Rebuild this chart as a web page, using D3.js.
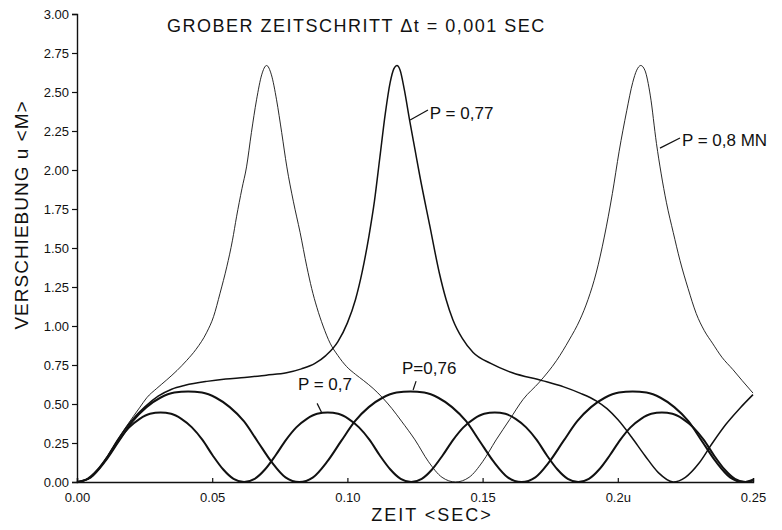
<!DOCTYPE html>
<html>
<head>
<meta charset="utf-8">
<title>Verschiebung</title>
<style>
  body { margin: 0; background: #fff; }
  text { font-family: "Liberation Sans", Arial, sans-serif; fill: #111; }
  .tick text { font-size: 13px; }
  .curve { fill: none; stroke: #111; }
</style>
</head>
<body>
<div id="chart"></div>
<script src="https://d3js.org/d3.v7.min.js"></script>
<script>
// [time sec, displacement m]
const p070 = [[0,0],[.0039,.02],[.0077,.08],[.0116,.17],[.0155,.27],[.0193,.35],[.0232,.405],[.0270,.437],[.0309,.445],[.0348,.437],[.0386,.405],[.0425,.35],[.0464,.27],[.0502,.17],[.0541,.08],[.0579,.02],[.0618,0],
  [.0657,.02],[.0695,.08],[.0734,.17],[.0773,.27],[.0811,.35],[.0850,.405],[.0888,.437],[.0927,.445],[.0966,.437],[.1004,.405],[.1043,.35],[.1082,.27],[.1120,.17],[.1159,.08],[.1197,.02],[.1236,0],
  [.1275,.02],[.1313,.08],[.1352,.17],[.1391,.27],[.1429,.35],[.1468,.405],[.1506,.437],[.1545,.445],[.1584,.437],[.1622,.405],[.1661,.35],[.1700,.27],[.1738,.17],[.1777,.08],[.1815,.02],[.1854,0],
  [.1893,.02],[.1931,.08],[.1970,.17],[.2009,.27],[.2047,.35],[.2086,.405],[.2124,.437],[.2163,.445],[.2202,.437],[.2240,.405],[.2279,.35],[.2318,.27],[.2356,.17],[.2395,.08],[.2433,.02],[.2472,0],[.25,.01]];

const p076 = [[0,0],[.0051,.03],[.0103,.13],[.0154,.26],[.0206,.39],[.0257,.48],[.0308,.54],[.0360,.573],[.0411,.58],[.0462,.573],[.0514,.54],[.0565,.48],[.0617,.39],[.0668,.26],[.0719,.13],[.0771,.03],[.0822,0],
  [.0873,.03],[.0925,.13],[.0976,.26],[.1028,.39],[.1079,.48],[.1130,.54],[.1182,.573],[.1233,.58],[.1284,.573],[.1336,.54],[.1387,.48],[.1439,.39],[.1490,.26],[.1541,.13],[.1593,.03],[.1644,0],
  [.1695,.03],[.1747,.13],[.1798,.26],[.1850,.39],[.1901,.48],[.1952,.54],[.2004,.573],[.2055,.58],[.2106,.573],[.2158,.54],[.2209,.48],[.2261,.39],[.2312,.26],[.2363,.13],[.2415,.03],[.2466,0],[.25,.015]];

const p077 = [[0,0],[.005,.03],[.01,.13],[.015,.27],[.02,.39],[.025,.48],[.03,.55],[.035,.595],[.04,.62],[.048,.645],[.055,.66],[.062,.67],[.07,.685],[.0775,.70],[.083,.725],[.088,.76],[.092,.81],[.0965,.90],[.100,1.02],[.103,1.17],[.1055,1.35],[.108,1.58],[.110,1.80],[.112,2.08],[.114,2.36],[.1158,2.56],[.1172,2.65],[.1183,2.67],[.1195,2.64],[.121,2.52],[.123,2.32],[.125,2.13],[.1268,1.96],[.1305,1.64],[.134,1.34],[.1365,1.17],[.139,1.04],[.1425,.92],[.1465,.83],[.153,.76],[.161,.70],[.172,.65],[.18,.61],[.186,.57],[.192,.52],[.196,.47],[.200,.40],[.205,.29],[.210,.17],[.215,.06],[.2205,0],[.225,.03],[.23,.12],[.235,.25],[.24,.37],[.245,.47],[.25,.56]];

const p080 = [[0,0],[.005,.03],[.01,.13],[.015,.27],[.0184,.36],[.0233,.48],[.0258,.54],[.0295,.60],[.0332,.655],[.037,.715],[.0406,.78],[.044,.85],[.048,.96],[.0505,1.06],[.0529,1.21],[.0554,1.38],[.0575,1.55],[.059,1.70],[.061,1.88],[.0627,2.02],[.0645,2.24],[.0664,2.45],[.0683,2.61],[.0701,2.67],[.0719,2.61],[.0738,2.45],[.0757,2.24],[.0776,2.02],[.080,1.80],[.0825,1.60],[.085,1.38],[.0868,1.24],[.0887,1.12],[.091,1.00],[.0936,.89],[.0965,.81],[.0997,.74],[.103,.69],[.106,.65],[.1095,.60],[.113,.54],[.1165,.47],[.12,.39],[.125,.27],[.13,.13],[.135,.03],[.14,0],
  [.145,.03],[.15,.13],[.155,.27],[.16,.40],[.165,.53],[.171,.64],[.1774,.78],[.182,.91],[.186,1.04],[.189,1.17],[.192,1.34],[.195,1.57],[.198,1.85],[.2005,2.12],[.2033,2.38],[.2055,2.56],[.207,2.64],[.2085,2.67],[.210,2.64],[.212,2.48],[.2143,2.17],[.216,1.98],[.218,1.79],[.2205,1.60],[.223,1.42],[.226,1.24],[.229,1.08],[.232,.97],[.235,.89],[.2385,.80],[.2426,.72],[.246,.65],[.25,.57]];

const xTicks = [0, 0.05, 0.10, 0.15, 0.20, 0.25];
const xTickLabels = ["0.00", "0.05", "0.10", "0.15", "0.2u", "0.25"];
const yTicks = [0, 0.25, 0.5, 0.75, 1, 1.25, 1.5, 1.75, 2, 2.25, 2.5, 2.75, 3];

// label text, text anchor point, leader from / to (all in data units)
const labels = [
  {text: "P = 0,77",   t: .1305, u: 2.33, l: [[.1232, 2.32], [.1298, 2.385]]},
  {text: "P = 0,8 MN", t: .2237, u: 2.154, l: [[.2156, 2.14], [.223, 2.205]]},
  {text: "P=0,76",     t: .1202, u: .692, l: [[.1243, .59], [.1254, .647]]},
  {text: "P = 0,7",    t: .0817, u: .59,  l: [[.0888, .504], [.0906, .44]]}
];

const width = 782, height = 530;
const margin = {top: 14, right: 29, bottom: 48, left: 77};
const graphWidth = width - margin.left - margin.right;
const graphHeight = height - margin.top - margin.bottom;

const svg = d3.select('#chart').append('svg')
  .attr('width', width)
  .attr('height', height);

const graph = svg.append('g')
  .attr('transform', `translate(${margin.left}, ${margin.top})`);

const x = d3.scaleLinear().domain([0, 0.25]).range([0, graphWidth]);
const y = d3.scaleLinear().domain([0, 3]).range([graphHeight, 0]);

const xAxis = d3.axisBottom(x)
  .tickValues(xTicks)
  .tickSize(-4)
  .tickPadding(11)
  .tickFormat((d, i) => xTickLabels[i]);
const yAxis = d3.axisLeft(y)
  .tickValues(yTicks)
  .tickSize(5)
  .tickPadding(3)
  .tickFormat(d3.format('.2f'));

const gX = graph.append('g')
  .attr('transform', `translate(0, ${graphHeight})`)
  .call(xAxis);
const gY = graph.append('g').call(yAxis);

[gX, gY].forEach(g => {
  g.select('.domain').attr('stroke', '#111').attr('stroke-width', 1.4);
  g.selectAll('.tick line').attr('stroke', '#111').attr('stroke-width', 1.2);
  g.selectAll('.tick text').attr('fill', '#111');
});
gY.selectAll('.tick text').attr('dy', '0.35em');

const line = d3.line()
  .x(d => x(d[0]))
  .y(d => y(d[1]))
  .curve(d3.curveMonotoneX);

const series = [
  {data: p080, w: 0.9},
  {data: p077, w: 1.5},
  {data: p076, w: 2.0},
  {data: p070, w: 2.0}
];

graph.selectAll('path.curve')
  .data(series)
  .enter()
  .append('path')
  .attr('class', 'curve')
  .attr('stroke-width', d => d.w)
  .attr('d', d => line(d.data));

// annotations
graph.selectAll('line.leader')
  .data(labels)
  .enter()
  .append('line')
  .attr('class', 'leader')
  .attr('stroke', '#111')
  .attr('stroke-width', 1.2)
  .attr('x1', d => x(d.l[0][0]))
  .attr('y1', d => y(d.l[0][1]))
  .attr('x2', d => x(d.l[1][0]))
  .attr('y2', d => y(d.l[1][1]));

graph.selectAll('text.plabel')
  .data(labels)
  .enter()
  .append('text')
  .attr('class', 'plabel')
  .attr('x', d => x(d.t))
  .attr('y', d => y(d.u))
  .style('font-size', '17px')
  .text(d => d.text);

// titles
svg.append('text')
  .attr('x', 167)
  .attr('y', 32)
  .style('font-size', '18px')
  .style('letter-spacing', '1.5px')
  .text('GROBER  ZEITSCHRITT  \u0394t = 0,001 SEC');

svg.append('text')
  .attr('x', 432)
  .attr('y', 521)
  .attr('text-anchor', 'middle')
  .style('font-size', '18px')
  .style('letter-spacing', '2px')
  .text('ZEIT <SEC>');

svg.append('text')
  .attr('transform', 'translate(28, 215) rotate(-90)')
  .attr('text-anchor', 'middle')
  .style('font-size', '19px')
  .style('letter-spacing', '1px')
  .text('VERSCHIEBUNG  u   <M>');
</script>
</body>
</html>
